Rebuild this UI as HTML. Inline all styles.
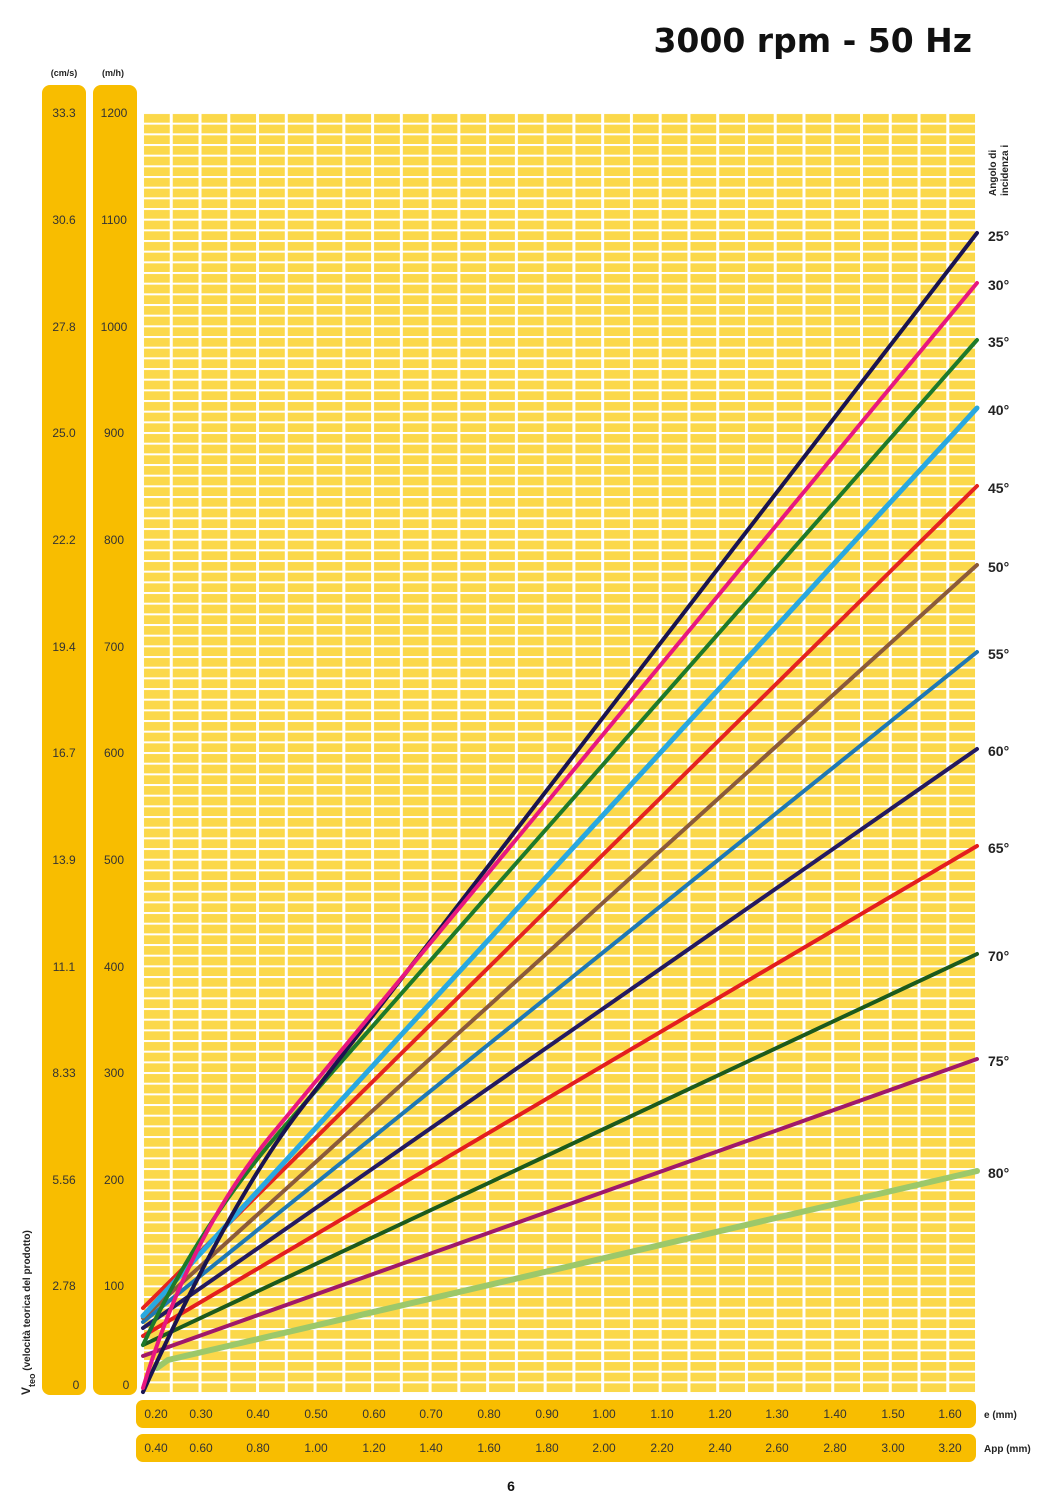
<!DOCTYPE html>
<html><head><meta charset="utf-8"><style>
body{margin:0;width:1038px;height:1500px;background:#fff;font-family:"Liberation Sans",sans-serif;position:relative;overflow:hidden}
</style></head><body>
<svg width="1038" height="1500" style="position:absolute;left:0;top:0">
<defs>
<pattern id="gv" x="141" y="0" width="28.76" height="1500" patternUnits="userSpaceOnUse"><rect x="0" y="0" width="3" height="1500" fill="#fff"/></pattern>
<pattern id="gh" x="0" y="112" width="1038" height="10.667" patternUnits="userSpaceOnUse"><rect x="0" y="0" width="1038" height="2" fill="#fff"/></pattern>
</defs>
<text x="972" y="52" text-anchor="end" font-size="33" font-weight="bold" fill="#111" font-family="DejaVu Sans, Liberation Sans, sans-serif">3000 rpm - 50 Hz</text>
<text x="64" y="76" text-anchor="middle" font-size="9" font-weight="bold" fill="#222">(cm/s)</text>
<text x="113" y="76" text-anchor="middle" font-size="9" font-weight="bold" fill="#222">(m/h)</text>
<rect x="42" y="85" width="44" height="1310" rx="8" fill="#f8bd00"/>
<rect x="93" y="85" width="44" height="1310" rx="8" fill="#f8bd00"/>
<rect x="141" y="112" width="836" height="1282" fill="#fbd84a"/>
<rect x="141" y="112" width="836" height="1282" fill="url(#gv)"/>
<rect x="141" y="112" width="836" height="1282" fill="url(#gh)"/>
<rect x="136" y="1400" width="840" height="28" rx="7" fill="#f8bd00"/>
<rect x="136" y="1434" width="840" height="28" rx="7" fill="#f8bd00"/>
<g fill="none" stroke-width="4" stroke-linecap="round">
<path stroke="#9cc86a" stroke-width="6" d="M157,1368 L168,1360 L977,1171"/>
<path stroke="#a0186a" d="M143,1356 L977,1059"/>
<path stroke="#1c5a1c" d="M143,1345 L977,954"/>
<path stroke="#e41e1e" d="M143,1336 L977,846"/>
<path stroke="#241a60" d="M143,1328 L977,749"/>
<path stroke="#1f78b4" d="M143,1322 L977,652"/>
<path stroke="#8b5a3a" d="M143,1318 L977,565"/>
<path stroke="#e52420" d="M143,1308 L977,486"/>
<path stroke="#29a8e0" stroke-width="5" d="M143,1316 L977,408"/>
<path stroke="#1e7a2a" d="M143,1345 Q200,1222 290,1120 L977,340"/>
<path stroke="#1a1450" d="M143,1392 Q230,1201 300,1110 L977,233"/>
<path stroke="#e8177f" d="M143,1388 Q190,1233 273,1133 L977,283"/>
</g>
<g font-size="12" fill="#333" text-anchor="middle">
<text x="64" y="117">33.3</text><text x="114" y="117">1200</text>
<text x="64" y="224">30.6</text><text x="114" y="224">1100</text>
<text x="64" y="331">27.8</text><text x="114" y="331">1000</text>
<text x="64" y="437">25.0</text><text x="114" y="437">900</text>
<text x="64" y="544">22.2</text><text x="114" y="544">800</text>
<text x="64" y="651">19.4</text><text x="114" y="651">700</text>
<text x="64" y="757">16.7</text><text x="114" y="757">600</text>
<text x="64" y="864">13.9</text><text x="114" y="864">500</text>
<text x="64" y="971">11.1</text><text x="114" y="971">400</text>
<text x="64" y="1077">8.33</text><text x="114" y="1077">300</text>
<text x="64" y="1184">5.56</text><text x="114" y="1184">200</text>
<text x="64" y="1290">2.78</text><text x="114" y="1290">100</text>
<text x="76" y="1389">0</text><text x="126" y="1389">0</text>
</g>
<g font-size="12" fill="#333" text-anchor="middle">
<text x="156" y="1418">0.20</text><text x="201" y="1418">0.30</text><text x="258" y="1418">0.40</text><text x="316" y="1418">0.50</text><text x="374" y="1418">0.60</text><text x="431" y="1418">0.70</text><text x="489" y="1418">0.80</text><text x="547" y="1418">0.90</text><text x="604" y="1418">1.00</text><text x="662" y="1418">1.10</text><text x="720" y="1418">1.20</text><text x="777" y="1418">1.30</text><text x="835" y="1418">1.40</text><text x="893" y="1418">1.50</text><text x="950" y="1418">1.60</text>
<text x="156" y="1452">0.40</text><text x="201" y="1452">0.60</text><text x="258" y="1452">0.80</text><text x="316" y="1452">1.00</text><text x="374" y="1452">1.20</text><text x="431" y="1452">1.40</text><text x="489" y="1452">1.60</text><text x="547" y="1452">1.80</text><text x="604" y="1452">2.00</text><text x="662" y="1452">2.20</text><text x="720" y="1452">2.40</text><text x="777" y="1452">2.60</text><text x="835" y="1452">2.80</text><text x="893" y="1452">3.00</text><text x="950" y="1452">3.20</text>
</g>
<text x="984" y="1418" font-size="10" font-weight="bold" fill="#222">e (mm)</text>
<text x="984" y="1452" font-size="10" font-weight="bold" fill="#222">App (mm)</text>
<g font-size="14" font-weight="bold" fill="#222">
<text x="988" y="241">25°</text><text x="988" y="290">30°</text><text x="988" y="347">35°</text><text x="988" y="415">40°</text><text x="988" y="493">45°</text><text x="988" y="572">50°</text><text x="988" y="659">55°</text><text x="988" y="756">60°</text><text x="988" y="853">65°</text><text x="988" y="961">70°</text><text x="988" y="1066">75°</text><text x="988" y="1178">80°</text>
</g>
<text transform="translate(996,196) rotate(-90)" font-size="10" font-weight="bold" fill="#222">Angolo di</text>
<text transform="translate(1008,196) rotate(-90)" font-size="10" font-weight="bold" fill="#222">incidenza i</text>
<text transform="translate(30,1395) rotate(-90)" font-size="12" font-weight="bold" fill="#222">V<tspan font-size="9" dy="5">teo</tspan><tspan dy="-5" font-size="10"> (velocità teorica del prodotto)</tspan></text>
<text x="511" y="1491" text-anchor="middle" font-size="14" font-weight="bold" fill="#111">6</text>
</svg>
</body></html>
